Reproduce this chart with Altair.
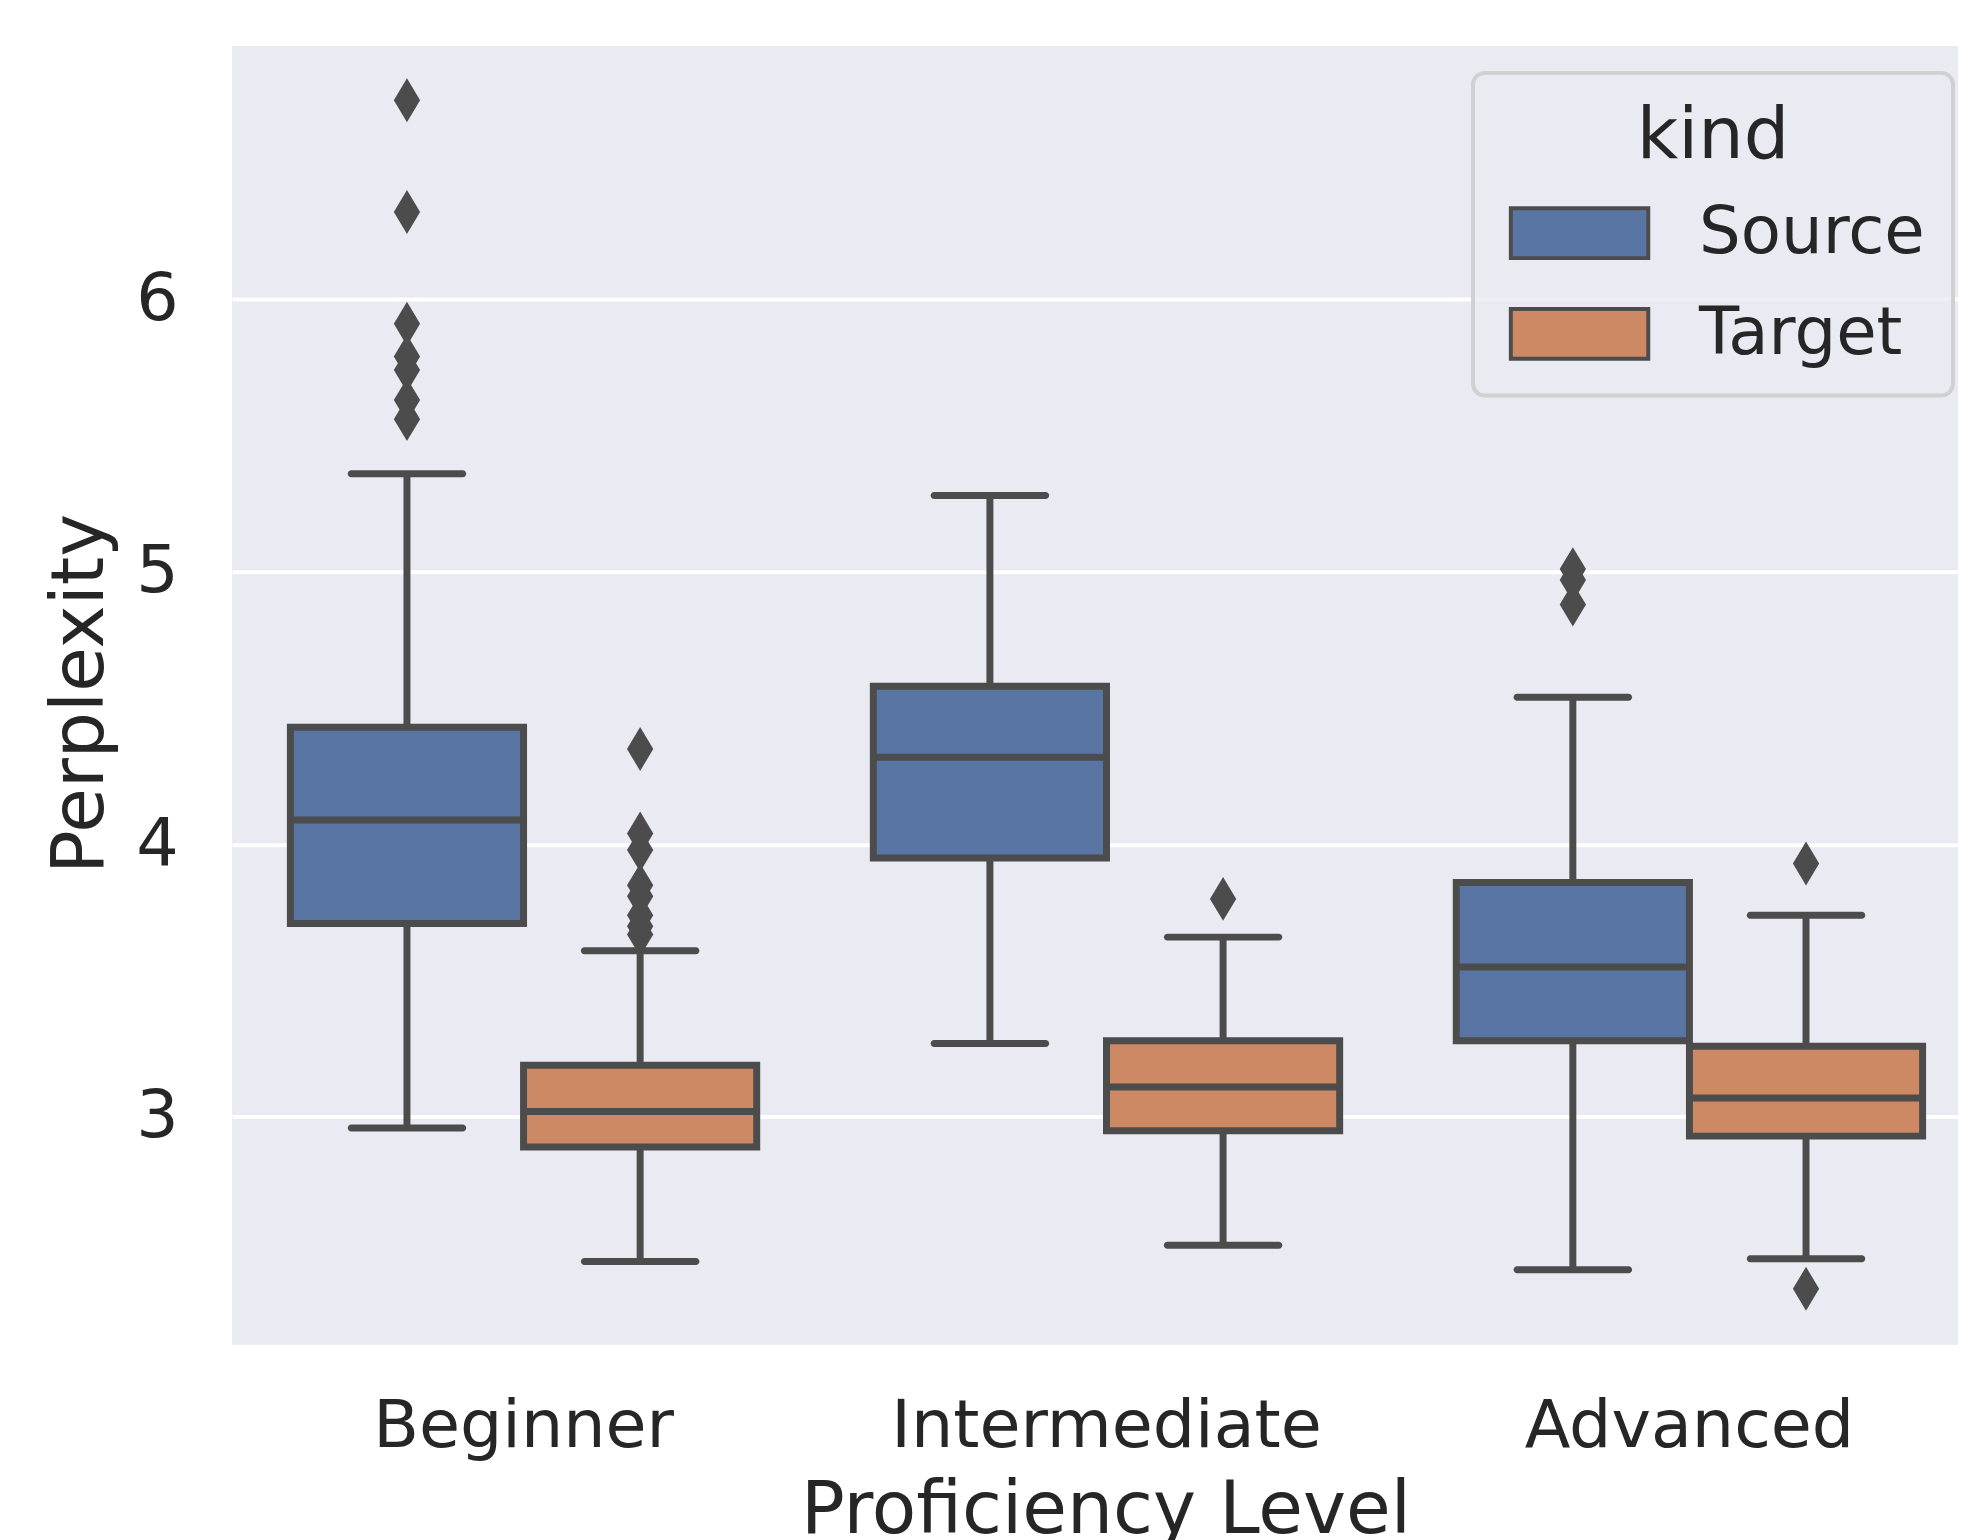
import altair as alt
import pandas as pd

levels = ["Beginner", "Intermediate", "Advanced"]
kinds = ["Source", "Target"]

# per (level, kind): Beginner-Source, Beginner-Target, Intermediate-Source, ...
box_level = ["Beginner", "Beginner", "Intermediate", "Intermediate", "Advanced", "Advanced"]
box_kind = ["Source", "Target", "Source", "Target", "Source", "Target"]
whisker_low = [2.96, 2.47, 3.27, 2.53, 2.44, 2.48]
q1 = [3.71, 2.89, 3.95, 2.95, 3.28, 2.93]
median = [4.09, 3.02, 4.32, 3.11, 3.55, 3.07]
q3 = [4.43, 3.19, 4.58, 3.28, 3.86, 3.26]
whisker_high = [5.36, 3.61, 5.28, 3.66, 4.54, 3.74]

out_level = (["Beginner"] * 7 + ["Beginner"] * 8 + ["Intermediate"] * 1
             + ["Advanced"] * 3 + ["Advanced"] * 2)
out_kind = (["Source"] * 7 + ["Target"] * 8 + ["Target"] * 1
            + ["Source"] * 3 + ["Target"] * 2)
out_value = [6.73, 6.32, 5.91, 5.79, 5.74, 5.63, 5.56,
             4.35, 4.04, 3.98, 3.85, 3.81, 3.74, 3.70, 3.67,
             3.80,
             5.01, 4.97, 4.88,
             3.93, 2.37]

colors = ["#5975A4", "#CC8963"]
line_col = "#4C4C4C"
font = "DejaVu Sans"

boxes = pd.DataFrame({"level": box_level, "kind": box_kind, "low": whisker_low,
                      "q1": q1, "median": median, "q3": q3, "high": whisker_high})
outliers = pd.DataFrame({"level": out_level, "kind": out_kind, "value": out_value})

x_enc = alt.X("level:N", sort=levels,
              scale=alt.Scale(range=[0, 1756], paddingInner=0, paddingOuter=0),
              axis=alt.Axis(title="Proficiency Level", labelAngle=0, grid=False,
                            labelPadding=102, labelBaseline="alphabetic",
                            labelLimit=0,
                            titleX=877, titleY=189, titleBaseline="alphabetic"))
xo_enc = alt.XOffset("kind:N", sort=kinds,
                     scale=alt.Scale(paddingInner=0, paddingOuter=0.25))
y_scale = alt.Scale(domain=[2.165, 6.929], nice=False, zero=False)
y_axis = alt.Axis(title="Perplexity", values=[3, 4, 5, 6], labelPadding=54,
                  titleX=-130, titleY=650, titleBaseline="alphabetic",
                  titleAngle=-90)

base = alt.Chart(boxes)

whisk_lo = base.mark_rule(color=line_col, strokeWidth=7).encode(
    x=x_enc, xOffset=xo_enc,
    y=alt.Y("low:Q", scale=y_scale, axis=y_axis), y2="q1:Q")
whisk_hi = base.mark_rule(color=line_col, strokeWidth=7).encode(
    x=x_enc, xOffset=xo_enc,
    y=alt.Y("q3:Q", scale=y_scale, axis=y_axis), y2="high:Q")
cap_lo = base.mark_tick(color=line_col, size=119, thickness=7, cornerRadius=3.5,
                        orient="horizontal", opacity=1).encode(
    x=x_enc, xOffset=xo_enc, y=alt.Y("low:Q", scale=y_scale, axis=y_axis))
cap_hi = base.mark_tick(color=line_col, size=119, thickness=7, cornerRadius=3.5,
                        orient="horizontal", opacity=1).encode(
    x=x_enc, xOffset=xo_enc, y=alt.Y("high:Q", scale=y_scale, axis=y_axis))
bars = base.mark_bar(stroke=line_col, strokeWidth=7, opacity=1).encode(
    x=x_enc, xOffset=xo_enc,
    y=alt.Y("q1:Q", scale=y_scale, axis=y_axis), y2="q3:Q",
    color=alt.Color("kind:N", sort=kinds,
                    scale=alt.Scale(domain=kinds, range=colors),
                    legend=alt.Legend(title="kind", orient="none",
                                      legendX=1246, legendY=27)))
med = base.mark_tick(color=line_col, size=234, thickness=7, orient="horizontal",
                     opacity=1).encode(
    x=x_enc, xOffset=xo_enc, y=alt.Y("median:Q", scale=y_scale, axis=y_axis))
pts = alt.Chart(outliers).mark_point(
    shape="M0,-1L0.6,0L0,1L-0.6,0Z", filled=True, size=1936, color=line_col,
    opacity=1, strokeWidth=0).encode(
    x=x_enc, xOffset=xo_enc, y=alt.Y("value:Q", scale=y_scale, axis=y_axis))

chart = alt.layer(whisk_lo, whisk_hi, cap_lo, cap_hi, bars, med, pts).properties(
    width=1733, height=1304,
    autosize=alt.AutoSizeParams(type="none"),
    padding={"left": 225, "top": 35, "right": 0, "bottom": 193},
    background="white",
).configure_view(fill="#EAEAF2", stroke=None).configure_axis(
    domain=False, ticks=False, tickSize=0,
    labelFont=font, labelFontSize=67, labelColor="#262626", labelLimit=0,
    titleFont=font, titleFontSize=73, titleColor="#262626", titleFontWeight="normal",
    gridColor="white", gridWidth=4, gridOpacity=1,
).configure_legend(
    titleFont=font, titleFontSize=72, titleFontWeight="normal", titleColor="#262626",
    labelFont=font, labelFontSize=66, labelColor="#262626", labelLimit=0,
    titleAnchor="middle", titlePadding=28, padding=28, rowPadding=33,
    labelOffset=133, symbolType="M-1,-1.087L5,-1.087L5,1.087L-1,1.087Z",
    symbolSize=2116, symbolStrokeColor=line_col, symbolStrokeWidth=4,
    symbolOpacity=1,
    fillColor="rgba(234,234,242,0.8)", strokeColor="#D0D0D0", cornerRadius=12,
    strokeWidth=4,
)

chart.save("out.html", embed_options={"renderer": "svg", "actions": False})
